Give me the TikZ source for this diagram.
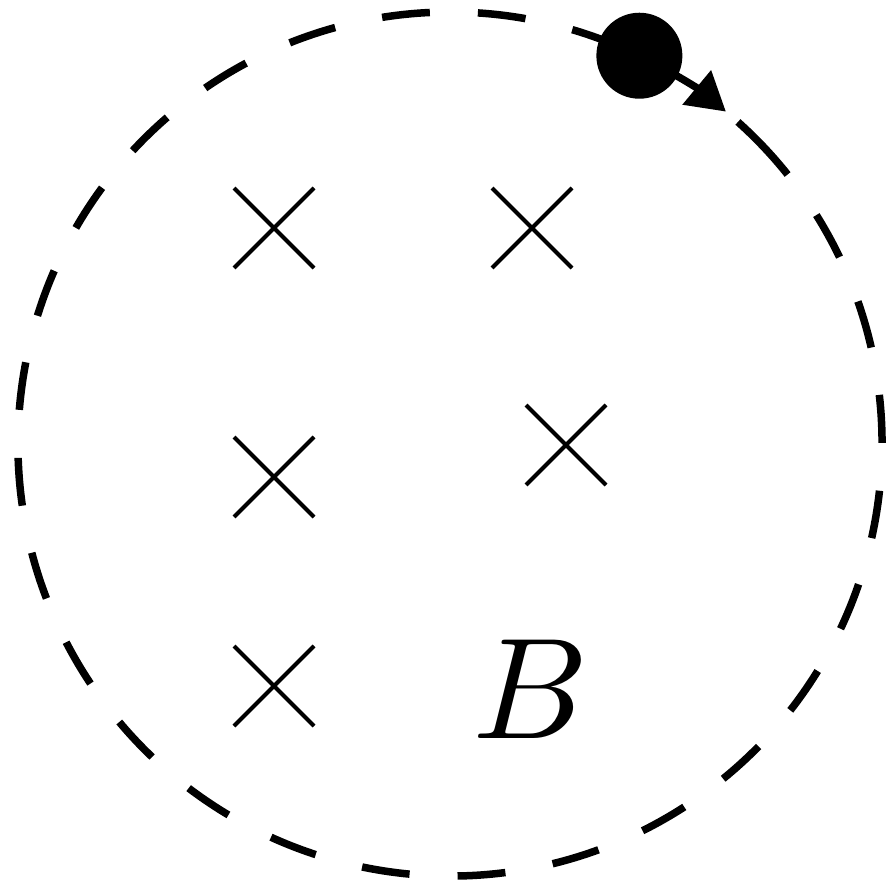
\documentclass[tikz,border=0pt]{standalone}
\usetikzlibrary{arrows.meta,shapes.misc}
\tikzset{
  field/.style={cross out,draw,line width=4pt,minimum size=80pt,inner sep=0pt,outer sep=0pt},
  orbitline/.style={line width=7.5pt},
  orbit/.style={orbitline,dash pattern=on 48pt off 48.05pt},
  charge/.style={circle,fill,inner sep=0pt,minimum size=86pt},
  motion/.style={line width=7.5pt,-{Triangle[length=38pt,width=43pt]}}
}
\begin{document}
\begin{tikzpicture}[x=1pt,y=-1pt]
\useasboundingbox (0,0) rectangle (892,885);
\coordinate (c) at (450,444);
\coordinate (o1) at ([shift={(-32:432)}]c);
\coordinate (o2) at ([shift={(-48.2:432)}]c);
\draw[orbit] (o1) arc[start angle=-32,end angle=296,radius=432];
\draw[orbitline] (o2) arc[start angle=-48.2,end angle=-38.6,radius=432];
\node[field] (x1) at (274,228) {};
\node[field] (x2) at (532,228) {};
\node[field] (x3) at (274,477) {};
\node[field] (x4) at (566,445) {};
\node[field] (x5) at (274,686) {};
\node[inner sep=0pt,scale=14.4] (B) at (531,689) {$B$};
\coordinate (p) at ([shift={(-64:432)}]c);
\draw[motion] (p) arc[start angle=-64,end angle=-50.3,radius=432];
\node[charge] (q) at (p) {};
\end{tikzpicture}
\end{document}
